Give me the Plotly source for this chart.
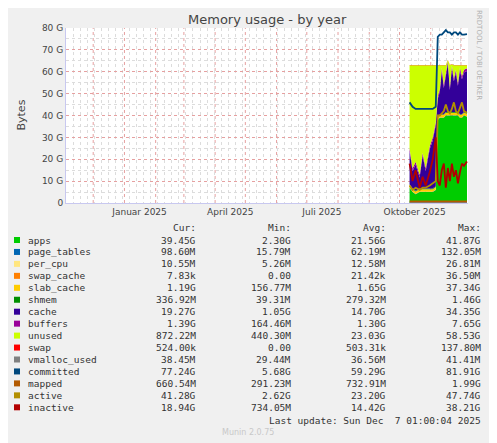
import plotly.graph_objects as go

dates = ["2025-10-11","2025-10-14","2025-10-17","2025-10-21","2025-10-24","2025-10-27","2025-10-31","2025-11-03",
         "2025-11-06","2025-11-08","2025-11-10","2025-11-12","2025-11-14","2025-11-16","2025-11-18","2025-11-20",
         "2025-11-22","2025-11-24","2025-11-26","2025-11-28","2025-11-30","2025-12-02","2025-12-04","2025-12-07"]
apps = [7,5,4,5,5,5,5,5,6,38,39,39,39,40,40,40,40,40,40,40,39,39,40,39.45]
page_tables = [0.1]*24
per_cpu = [0.01]*24
swap_cache = [0.0]*24
slab_cache = [1.2]*24
shmem = [0.3]*24
cache = [15,8,12,5,15,8,18,22,28,8,10,20,12,16,22,10,20,14,18,12,20,16,18,19.27]
buffers = [1.3]*24
total = 63.0
swap = [0.1]*24
committed = [46,44,43,43,43,43,43,43,44,76,77,77,78,79,78,78,77,78,78,77,78,77,77,77.24]
inactive = [18,10,15,7,12,8,14,20,30,10,8,15,18,7,16,10,18,12,15,9,14,18,17,18.94]
active = [8,6,7,6,7,7,8,9,10,40,40,41,42,45,42,41,43,46,42,41,44,46,42,41.28]
mapped = [0.7]*24
vmalloc_used = [0.04]*24

month_starts = ["2024-12-01","2025-01-01","2025-02-01","2025-03-01","2025-04-01","2025-05-01","2025-06-01",
                "2025-07-01","2025-08-01","2025-09-01","2025-10-01","2025-11-01","2025-12-01"]
label_dates = ["2025-01-16","2025-04-16","2025-07-16","2025-10-16"]
label_text = ["Januar 2025","April 2025","Juli 2025","Oktober 2025"]

stack_names = ["apps","page_tables","per_cpu","swap_cache","slab_cache","shmem","cache","buffers","unused","swap"]
line_names = ["vmalloc_used","committed","mapped","active","inactive"]
colors = {"apps":"#00cc00","page_tables":"#0066b3","per_cpu":"#ffe680","swap_cache":"#ff8000",
          "slab_cache":"#ffcc00","shmem":"#008f00","cache":"#330099","buffers":"#990099",
          "unused":"#ccff00","swap":"#ff0000","vmalloc_used":"#808080","committed":"#00487d",
          "mapped":"#b35a00","active":"#b38f00","inactive":"#b30000"}
stats = [("39.45G","2.30G","21.56G","41.87G"),("98.60M","15.79M","62.19M","132.05M"),
         ("10.55M","5.26M","12.58M","26.81M"),("7.83k","0.00","21.42k","36.50M"),
         ("1.19G","156.77M","1.65G","37.34G"),("336.92M","39.31M","279.32M","1.46G"),
         ("19.27G","1.05G","14.70G","34.35G"),("1.39G","164.46M","1.30G","7.65G"),
         ("872.22M","440.30M","23.03G","58.53G"),("524.00k","0.00","503.31k","137.80M"),
         ("38.45M","29.44M","36.56M","41.41M"),("77.24G","5.68G","59.29G","81.91G"),
         ("660.54M","291.23M","732.91M","1.99G"),("41.28G","2.62G","23.20G","47.74G"),
         ("18.94G","734.05M","14.42G","38.21G")]

base = [apps[i]+page_tables[i]+per_cpu[i]+swap_cache[i]+slab_cache[i]+shmem[i]+cache[i]+buffers[i] for i in range(24)]
unused = [max(total-b, 0.5) for b in base]
series = dict(apps=apps,page_tables=page_tables,per_cpu=per_cpu,swap_cache=swap_cache,slab_cache=slab_cache,
              shmem=shmem,cache=cache,buffers=buffers,unused=unused,swap=swap,vmalloc_used=vmalloc_used,
              committed=committed,mapped=mapped,active=active,inactive=inactive)

fig = go.Figure()
for n in stack_names:
    fig.add_trace(go.Scatter(x=dates, y=[v*1e9 for v in series[n]], stackgroup="s", mode="lines",
                             line=dict(width=0, color=colors[n]), fillcolor=colors[n], name=n))
for n in line_names:
    fig.add_trace(go.Scatter(x=dates, y=[v*1e9 for v in series[n]], mode="lines",
                             line=dict(width=1.8, color=colors[n]), name=n))

OX, OY = 8, 8
W, H = 497 - OX, 443 - OY
L, R, T, B = 66 - OX, 468 - OX, 28 - OY, 203 - OY
def px(x): return (x - OX - L) / (R - L)
def py(y): return (B - (y - OY)) / (B - T)

mono = dict(family="DejaVu Sans Mono", size=9.5, color="#333")
ann = []
shapes = []
for m in month_starts:
    shapes.append(dict(type="line", xref="x", yref="paper", x0=m, x1=m, y0=0, y1=1, layer="below",
                       line=dict(color="#e6a0a0", width=1, dash="dot")))
for txt, x in [("Cur:",198),("Min:",293),("Avg:",388),("Max:",483)]:
    ann.append(dict(x=px(x), y=py(227), xref="paper", yref="paper", text=txt, showarrow=False,
                    xanchor="right", yanchor="middle", font=mono))
allnames = stack_names + line_names
for i, n in enumerate(allnames):
    y = 240 + i*11.95
    shapes.append(dict(type="rect", xref="paper", yref="paper", x0=px(14), x1=px(20), y0=py(y+3), y1=py(y-3),
                       fillcolor=colors[n], line=dict(width=0)))
    ann.append(dict(x=px(26), y=py(y), xref="paper", yref="paper", text=n, showarrow=False,
                    xanchor="left", yanchor="middle", font=mono))
    for s, x in zip(stats[i], [198,293,388,483]):
        ann.append(dict(x=px(x), y=py(y), xref="paper", yref="paper", text=s, showarrow=False,
                        xanchor="right", yanchor="middle", font=mono))
ann.append(dict(x=px(483), y=py(420), xref="paper", yref="paper", text="Last update: Sun Dec  7 01:00:04 2025",
                showarrow=False, xanchor="right", yanchor="middle", font=mono))
ann.append(dict(x=px(248), y=py(432), xref="paper", yref="paper", text="Munin 2.0.75", showarrow=False,
                yanchor="middle", font=dict(family="DejaVu Sans", size=8, color="#c8c8c8")))
ann.append(dict(x=px(485), y=py(55), xref="paper", yref="paper", text="RRDTOOL / TOBI OETIKER", showarrow=False,
                textangle=90, yanchor="middle", font=dict(family="DejaVu Sans", size=7, color="#b0b0b0")))
ann.append(dict(x=px(12), y=py(115), xref="paper", yref="paper", text="Bytes", showarrow=False,
                textangle=-90, yanchor="middle", font=dict(family="DejaVu Sans", size=11, color="#444")))
ann.append(dict(x=px(267), y=py(19), xref="paper", yref="paper", text="Memory usage - by year", showarrow=False,
                yanchor="middle", font=dict(family="DejaVu Sans", size=13, color="#444")))

fig.update_layout(width=W, height=H, margin=dict(l=L, r=W-R, t=T, b=H-B, autoexpand=False),
                  paper_bgcolor="#f0f0f0", plot_bgcolor="#ffffff", showlegend=False,
                  annotations=ann, shapes=shapes)
fig.update_xaxes(range=["2024-11-04","2025-12-08"], tickvals=label_dates, ticktext=label_text,
                 showgrid=False,
                 minor=dict(dtick=7*86400000, tick0="2024-11-04", showgrid=True, gridcolor="#dcdcdc", griddash="dot"),
                 tickfont=dict(family="DejaVu Sans", size=9, color="#444"), ticks="", showline=True, linecolor="#c8c8f0")
fig.update_yaxes(range=[0, 80e9], tickvals=[i*10e9 for i in range(9)],
                 ticktext=["0"]+[f"{i*10} G" for i in range(1,9)],
                 showgrid=True, gridcolor="#e6a0a0", griddash="dot", gridwidth=1, zeroline=False,
                 minor=dict(tickvals=[i*5e9 for i in range(1,16,2)], showgrid=True, gridcolor="#dcdcdc", griddash="dot"),
                 tickfont=dict(family="DejaVu Sans", size=9, color="#444"), ticks="", showline=True, linecolor="#c8c8f0")
fig.write_html("out.html")
